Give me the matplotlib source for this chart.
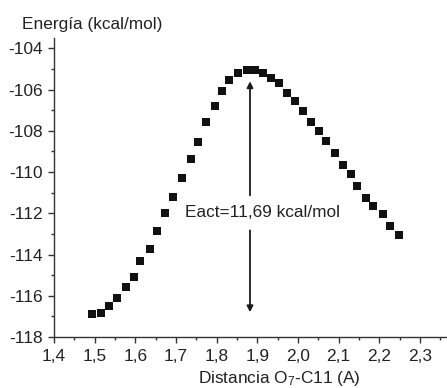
import matplotlib
matplotlib.use("Agg")
import matplotlib.pyplot as plt
from matplotlib.ticker import MultipleLocator

plt.rcParams['font.family'] = ['Liberation Sans', 'DejaVu Sans']
plt.rcParams['mathtext.fontset'] = 'custom'
plt.rcParams['mathtext.rm'] = 'Liberation Sans'
plt.rcParams['mathtext.it'] = 'Liberation Sans:italic'

# Data
distance = [1.493, 1.516, 1.535, 1.555, 1.576, 1.597, 1.611, 1.636, 1.654, 1.673,
            1.693, 1.715, 1.737, 1.754, 1.774, 1.796, 1.8135, 1.831, 1.853, 1.874,
            1.895, 1.914, 1.934, 1.954, 1.9735, 1.993, 2.012, 2.0325, 2.0515, 2.070,
            2.090, 2.111, 2.130, 2.146, 2.168, 2.185, 2.209, 2.2275, 2.248]
energy = [-116.90, -116.85, -116.51, -116.11, -115.59, -115.11, -114.33, -113.72, -112.87, -112.00,
          -111.23, -110.30, -109.38, -108.56, -107.59, -106.78, -106.07, -105.52, -105.18, -105.07,
          -105.07, -105.18, -105.46, -105.70, -106.17, -106.57, -107.02, -107.56, -108.02, -108.51,
          -109.07, -109.65, -110.11, -110.69, -111.24, -111.66, -112.05, -112.63, -113.07]

x_ticks = [1.4, 1.5, 1.6, 1.7, 1.8, 1.9, 2.0, 2.1, 2.2, 2.3]
x_tick_labels = ['1,4', '1,5', '1,6', '1,7', '1,8', '1,9', '2,0', '2,1', '2,2', '2,3']
y_ticks = [-118, -116, -114, -112, -110, -108, -106, -104]
y_tick_labels = ['-118', '-116', '-114', '-112', '-110', '-108', '-106', '-104']

arrow_x = 1.882
arrow_top = -105.6
arrow_bottom = -116.8
eact_label = 'Eact=11,69 kcal/mol'

fig = plt.figure(figsize=(4.47, 3.88), dpi=100)
ax = fig.add_axes([54 / 447, 1 - 337 / 388, 1 - 54 / 447, (337 - 38) / 388])

ax.plot(distance, energy, linestyle='none', marker='s', markersize=5.4,
        color='#111111', markeredgewidth=0)

ax.set_xlim(1.4, 2.3665)
ax.set_ylim(-118, -103.5)

ax.set_xticks(x_ticks)
ax.set_xticklabels(x_tick_labels)
ax.set_yticks(y_ticks)
ax.set_yticklabels(y_tick_labels)
ax.xaxis.set_minor_locator(MultipleLocator(0.05))
ax.yaxis.set_minor_locator(MultipleLocator(1))

for s in ['top', 'right']:
    ax.spines[s].set_visible(False)
for s in ['left', 'bottom']:
    ax.spines[s].set_color('#333333')
    ax.spines[s].set_linewidth(1.0)

ax.tick_params(axis='both', which='major', direction='out', length=4.5, width=1.0,
               color='#333333', labelsize=12.4, labelcolor='#222222')
ax.tick_params(axis='both', which='minor', direction='out', length=2.5, width=1.0,
               color='#333333')
ax.tick_params(axis='x', which='major', pad=4.3)
ax.tick_params(axis='y', which='major', pad=3.5)

# Arrows (two segments around the label)
ax.annotate('', xy=(arrow_x, arrow_top), xytext=(arrow_x, -111.13),
            arrowprops=dict(arrowstyle='-|>', color='#1a1a1a', lw=1.3,
                            mutation_scale=9, shrinkA=0, shrinkB=0))
ax.annotate('', xy=(arrow_x, arrow_bottom), xytext=(arrow_x, -112.83),
            arrowprops=dict(arrowstyle='-|>', color='#1a1a1a', lw=1.3,
                            mutation_scale=9, shrinkA=0, shrinkB=0))
ax.text(1.7215, -111.95, eact_label, fontsize=12.4, color='#222222',
        ha='left', va='center')

ax.set_ylabel('Energía (kcal/mol)', rotation=0, fontsize=12.4, color='#222222',
              ha='left', va='center')
ax.yaxis.set_label_coords((22 - 54) / 393, (337 - 25) / 299)
ax.set_xlabel('Distancia O$_{\\mathit{7}}$-C11 (A)', fontsize=12.4, color='#222222',
              ha='center', va='center')
ax.xaxis.set_label_coords((279 - 54) / 393, -(378 - 337) / 299)

fig.savefig('out.png', dpi=100)
